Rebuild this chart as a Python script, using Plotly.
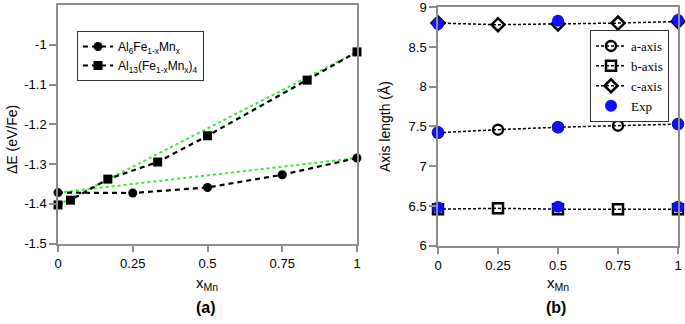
import plotly.graph_objects as go

# ---- Panel (a) data ----
x_al6 = [0, 0.25, 0.5, 0.75, 1]
e_al6 = [-1.372, -1.373, -1.359, -1.327, -1.285]
x_al13 = [0, 1/24, 1/6, 1/3, 0.5, 5/6, 1]
e_al13 = [-1.403, -1.391, -1.338, -1.295, -1.229, -1.089, -1.018]
x_lin = [0, 1]
lin_al6 = [-1.372, -1.285]
lin_al13 = [-1.403, -1.018]

# ---- Panel (b) data ----
x_calc = [0, 0.25, 0.5, 0.75, 1]
a_axis = [7.42, 7.46, 7.49, 7.51, 7.53]
b_axis = [6.46, 6.47, 6.46, 6.46, 6.46]
c_axis = [8.80, 8.78, 8.79, 8.80, 8.82]
x_exp = [0, 0.5, 1, 0, 0.5, 1, 0, 0.5, 1]
exp_vals = [7.43, 7.49, 7.53, 6.48, 6.49, 6.49, 8.79, 8.83, 8.84]

ya_ticks = [-1.5, -1.4, -1.3, -1.2, -1.1, -1.0]
ya_text = ["-1.5", "-1.4", "-1.3", "-1.2", "-1.1", "-1"]
yb_ticks = [6, 6.5, 7, 7.5, 8, 8.5, 9]
yb_text = ["6", "6.5", "7", "7.5", "8", "8.5", "9"]
x_ticks = [0, 0.25, 0.5, 0.75, 1]
x_text = ["0", "0.25", "0.5", "0.75", "1"]

fig = go.Figure()
GREEN = "#33ee33"

fig.add_trace(go.Scatter(x=x_lin, y=lin_al6, mode="lines", line=dict(color=GREEN, width=2, dash="dot"),
                         showlegend=False, xaxis="x", yaxis="y"))
fig.add_trace(go.Scatter(x=x_lin, y=lin_al13, mode="lines", line=dict(color=GREEN, width=2, dash="dot"),
                         showlegend=False, xaxis="x", yaxis="y"))
fig.add_trace(go.Scatter(x=x_al6, y=e_al6, mode="lines+markers",
                         name="Al<sub>6</sub>Fe<sub>1-x</sub>Mn<sub>x</sub>",
                         line=dict(color="black", width=2.2, dash="5px,4px"),
                         marker=dict(symbol="circle", size=9, color="black"),
                         cliponaxis=False, legend="legend", xaxis="x", yaxis="y"))
fig.add_trace(go.Scatter(x=x_al13, y=e_al13, mode="lines+markers",
                         name="Al<sub>13</sub>(Fe<sub>1-x</sub>Mn<sub>x</sub>)<sub>4</sub>",
                         line=dict(color="black", width=2.2, dash="5px,4px"),
                         marker=dict(symbol="square", size=9, color="black"),
                         cliponaxis=False, legend="legend", xaxis="x", yaxis="y"))

for name, vals, sym in [("a-axis", a_axis, "circle-open"), ("b-axis", b_axis, "square-open"),
                        ("c-axis", c_axis, "diamond-open")]:
    fig.add_trace(go.Scatter(x=x_calc, y=vals, mode="lines+markers", name=name,
                             line=dict(color="black", width=1.5, dash="3px,2px"),
                             marker=dict(symbol=sym, size=10, color="black", line=dict(width=2.5, color="black")),
                             cliponaxis=False, legend="legend2", xaxis="x2", yaxis="y2"))
fig.add_trace(go.Scatter(x=x_exp, y=exp_vals, mode="markers", name="Exp",
                         marker=dict(symbol="circle", size=12, color="#1010ff"),
                         cliponaxis=False, legend="legend2", xaxis="x2", yaxis="y2"))

axcol = "#8c8c8c"
common = dict(showline=True, linecolor=axcol, linewidth=1.5, mirror=True, ticks="outside",
              ticklen=7, tickcolor=axcol, tickwidth=1.5, showgrid=False, zeroline=False,
              ticklabeloverflow="allow", automargin=False,
              tickfont=dict(family="Liberation Sans, Arial", size=13, color="black"))

fig.update_layout(
    width=685, height=324, margin=dict(l=0, r=0, t=0, b=0),
    paper_bgcolor="white", plot_bgcolor="white",
    xaxis=dict(domain=[58/685, 357/685], range=[0, 1], tickvals=x_ticks, ticktext=x_text,
               anchor="y", **common),
    yaxis=dict(domain=[1-243.5/324, 1-5/324], range=[-1.5, -0.9], tickvals=ya_ticks, ticktext=ya_text,
               anchor="x", **common),
    xaxis2=dict(domain=[438/685, 678/685], range=[0, 1], tickvals=x_ticks, ticktext=x_text,
                anchor="y2", **common),
    yaxis2=dict(domain=[1-245.7/324, 1-7.2/324], range=[6, 9], tickvals=yb_ticks, ticktext=yb_text,
                anchor="x2", **common),
    legend=dict(x=77/685, y=1-31/324, xanchor="left", yanchor="top", bgcolor="white",
                bordercolor="#333333", borderwidth=1, itemwidth=30, tracegroupgap=0,
                font=dict(family="Liberation Sans, Arial", size=12, color="black")),
    legend2=dict(x=590/685, y=1-30/324, xanchor="left", yanchor="top", bgcolor="white",
                 bordercolor="#333333", borderwidth=1, itemwidth=30, tracegroupgap=0,
                 font=dict(family="Liberation Serif, Times New Roman", size=13, color="black")),
    showlegend=True,
)

font_lab = dict(family="Liberation Sans, Arial", size=14, color="black")
font_tag = dict(family="Liberation Sans, Arial", size=16, color="black")
font_x = dict(family="Liberation Sans, Arial", size=15, color="black")
ann = [
    dict(text="ΔE (eV/Fe)", x=12/685, y=1-140/324, textangle=-90, font=font_lab),
    dict(text="Axis length (Å)", x=385/685, y=1-127/324, textangle=-90, font=font_lab),
    dict(text="x<sub>Mn</sub>", x=207/685, y=1-283/324, font=font_x),
    dict(text="x<sub>Mn</sub>", x=558/685, y=1-283/324, font=font_x),
    dict(text="<b>(a)</b>", x=206/685, y=1-307/324, font=font_tag),
    dict(text="<b>(b)</b>", x=556/685, y=1-307/324, font=font_tag),
]
for a in ann:
    fig.add_annotation(xref="paper", yref="paper", showarrow=False, xanchor="center", yanchor="middle", **a)

fig.write_html("out.html", config={"displayModeBar": False},
               post_script="document.body.style.margin='0';document.body.style.overflow='hidden';")
